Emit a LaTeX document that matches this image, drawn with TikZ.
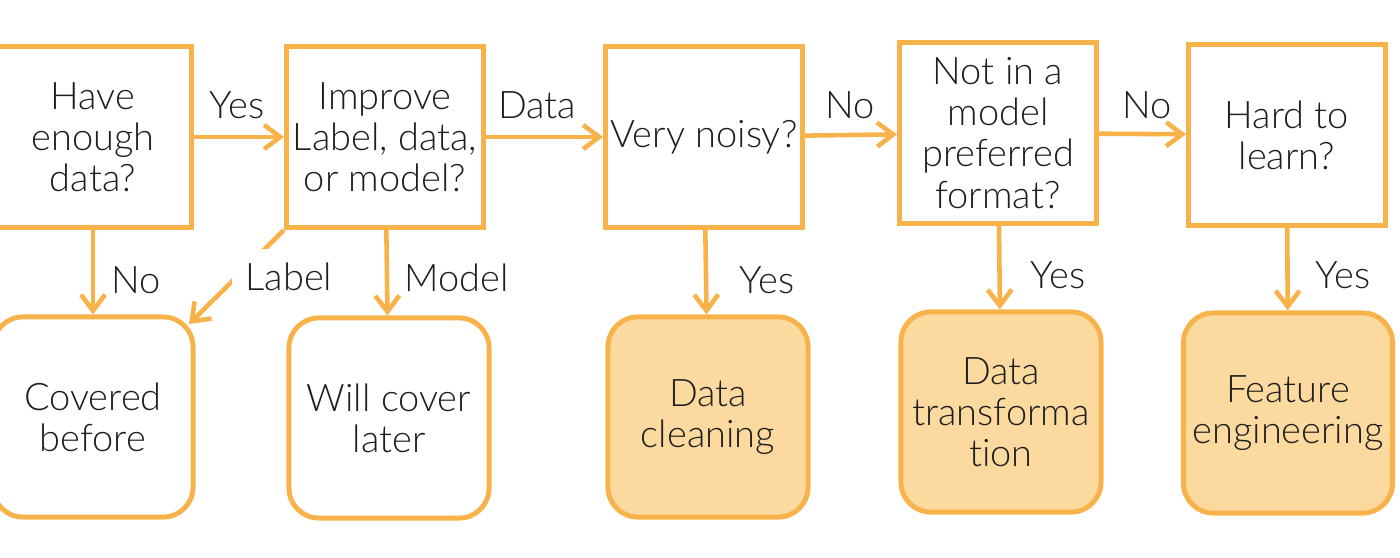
\documentclass[tikz,border=0pt]{standalone}
\usepackage{fontspec}
\setmainfont{Lato}[UprightFont=* Light,Ligatures={NoCommon}]
\usetikzlibrary{arrows.meta,positioning}
\definecolor{Gold}{HTML}{F8B24A}
\definecolor{Cream}{HTML}{FCDA9F}
\definecolor{Ink}{HTML}{1E1E1E}
\tikzset{
  arr/.style={-{Straight Barb[length=1.6mm,width=2.4mm]},line width=1.3pt,draw=Gold},
  askbox/.style={draw=Gold,line width=1.4pt,fill=white,minimum width=1.97cm,minimum height=1.81cm,align=center,text=Ink,inner sep=1pt},
  endbox/.style={draw=Gold,line width=1.4pt,rounded corners=8.5pt,fill=white,minimum width=2cm,minimum height=2cm,align=center,text=Ink,inner sep=1pt},
  stepbox/.style={endbox,fill=Cream},
  lbl/.style={text=Ink,inner sep=1pt}
}
\begin{document}
\begin{tikzpicture}[x=0.01cm,y=-0.01cm,font=\fontsize{10.8pt}{11.7pt}\selectfont]
  \useasboundingbox (0,0) rectangle (1400,558);
  % questions
  \node[askbox] (have) at (93,137) {Have\\enough\\data?};
  \node[askbox] (improve) at (385,137) {Improve\\Label, data,\\or model?};
  \node[askbox] (noisy) at (704,137) {Very noisy?};
  \node[askbox] (format) at (998,133) {Not in a\\model\\preferred\\format?};
  \node[askbox] (hard) at (1287,135) {Hard to\\learn?};
  % outcomes
  \node[endbox] (before) at (93,417) {Covered\\before};
  \node[endbox] (later) at (389,418) {Will cover\\later};
  \node[stepbox] (clean) at (708,417) {Data\\cleaning};
  \node[stepbox] (transform) at (1001,412) {Data\\transforma\\tion};
  \node[stepbox,minimum width=2.09cm] (feature) at (1288,413) {Feature\\engineering};
  \coordinate (corner) at (189,324);
  % connectors
  \draw[arr] (have) -- (improve);
  \draw[arr] (improve) -- (noisy);
  \draw[arr] (noisy) -- (format);
  \draw[arr] (format) -- (hard);
  \draw[arr] (have) -- (before);
  \draw[arr] (improve.south west) -- (corner);
  \draw[arr] (improve) -- (later);
  \draw[arr] (noisy) -- (clean);
  \draw[arr] (format) -- (transform);
  \draw[arr] (hard) -- (feature);
  % labels
  \node[lbl] (yesa) at (237,105) {Yes};
  \node[lbl] (data) at (537,105) {Data};
  \node[lbl] (noa) at (850,105) {No};
  \node[lbl] (nob) at (1147,105) {No};
  \node[lbl] (noc) at (136,280) {No};
  \node[lbl,fill=white,inner sep=4pt] (label) at (289,277) {Label};
  \node[lbl] (model) at (457,278) {Model};
  \node[lbl] (yesb) at (767,280) {Yes};
  \node[lbl] (yesc) at (1058,275) {Yes};
  \node[lbl] (yesd) at (1343,275) {Yes};
\end{tikzpicture}
\end{document}
